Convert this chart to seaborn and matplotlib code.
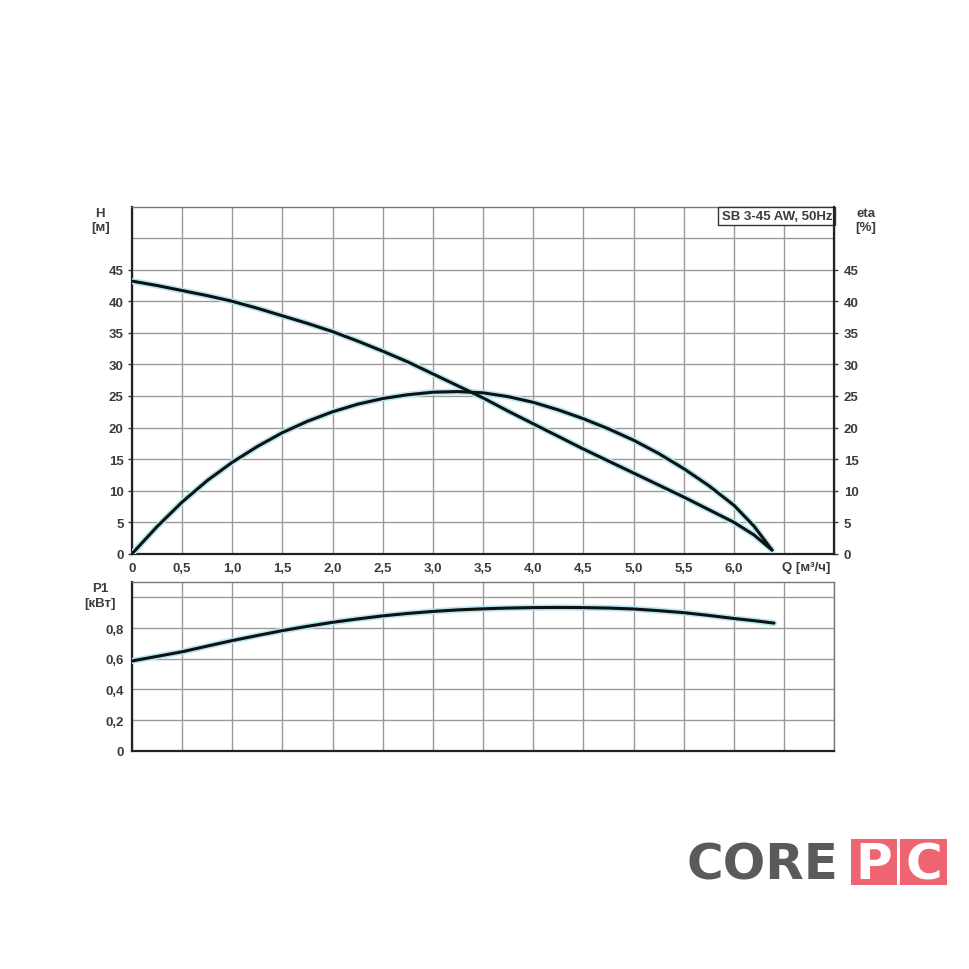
import numpy as np
import pandas as pd
import matplotlib
matplotlib.use("Agg")
import matplotlib.pyplot as plt
import seaborn as sns
from matplotlib.patches import Rectangle

# curve data
q_h = [0, 0.25, 0.5, 0.75, 1.0, 1.25, 1.5, 1.75, 2.0, 2.25, 2.5, 2.75, 3.0, 3.25,
       3.5, 3.75, 4.0, 4.25, 4.5, 4.75, 5.0, 5.25, 5.5, 5.75, 6.0, 6.2, 6.38]
head = [43.2, 42.5, 41.7, 40.9, 40.0, 38.9, 37.7, 36.5, 35.2, 33.7, 32.1, 30.4, 28.5, 26.6,
        24.7, 22.6, 20.6, 18.6, 16.6, 14.7, 12.8, 10.9, 9.0, 7.0, 5.0, 3.0, 0.6]

q_eta = [0, 0.25, 0.5, 0.75, 1.0, 1.25, 1.5, 1.75, 2.0, 2.25, 2.5, 2.75, 3.0, 3.25,
         3.5, 3.75, 4.0, 4.25, 4.5, 4.75, 5.0, 5.25, 5.5, 5.75, 6.0, 6.2, 6.38]
eta = [0, 4.3, 8.2, 11.6, 14.5, 17.0, 19.2, 21.0, 22.5, 23.7, 24.6, 25.2, 25.6, 25.7,
       25.5, 24.9, 24.0, 22.8, 21.4, 19.8, 18.0, 15.9, 13.5, 10.8, 7.7, 4.4, 0.6]

q_p = [0, 0.25, 0.5, 0.75, 1.0, 1.25, 1.5, 1.75, 2.0, 2.25, 2.5, 2.75, 3.0, 3.25,
       3.5, 3.75, 4.0, 4.25, 4.5, 4.75, 5.0, 5.25, 5.5, 5.75, 6.0, 6.2, 6.4]
p1 = [0.585, 0.615, 0.645, 0.682, 0.718, 0.751, 0.783, 0.811, 0.837, 0.859, 0.879, 0.895,
      0.908, 0.918, 0.925, 0.930, 0.933, 0.934, 0.933, 0.930, 0.924, 0.913, 0.900, 0.882,
      0.862, 0.848, 0.832]

q_labels = ["0", "0,5", "1,0", "1,5", "2,0", "2,5", "3,0", "3,5", "4,0", "4,5", "5,0", "5,5", "6,0"]
h_ticks = [0, 5, 10, 15, 20, 25, 30, 35, 40, 45]
p_labels = ["0", "0,2", "0,4", "0,6", "0,8"]

sns.set_style("white")
plt.rcParams['font.family'] = ['Liberation Sans', 'DejaVu Sans']

txt = "#3c3c3c"
gridc = "#9a9a9a"
fs = 9.5
fw = "bold"

fig = plt.figure(figsize=(9.7, 9.7), dpi=100)
ax = fig.add_axes([0.136, 0.428, 0.724, 0.358])
ax2 = ax.twinx()
axp = fig.add_axes([0.136, 0.225, 0.724, 0.174])

df_h = pd.DataFrame({"Q": q_h, "H": head})
df_e = pd.DataFrame({"Q": q_eta, "eta": eta})
df_p = pd.DataFrame({"Q": q_p, "P1": p1})

# light cyan shadow under each curve, like the scanned original
for d, y, a in [(df_h, "H", ax), (df_e, "eta", ax), (df_p, "P1", axp)]:
    sns.lineplot(data=d, x="Q", y=y, ax=a, color="#b5e8f2", linewidth=4.5, zorder=3)
    sns.lineplot(data=d, x="Q", y=y, ax=a, color="#111111", linewidth=2.2, zorder=4)

for a in (ax, axp):
    a.set_xlim(0, 7.0)
    a.set_xticks(np.arange(0, 7.01, 0.5))
    a.grid(True, color=gridc, linewidth=1.0)
    a.set_xlabel("")
    a.set_ylabel("")
    for s in ("top", "right"):
        a.spines[s].set_color("#777777")
        a.spines[s].set_linewidth(1.0)
    for s in ("left", "bottom"):
        a.spines[s].set_color("#222222")
        a.spines[s].set_linewidth(1.6)

ax.set_ylim(0, 55)
ax.set_yticks(h_ticks)
ax.set_yticklabels([str(v) for v in h_ticks], fontweight=fw)
ax.axhline(50, color=gridc, linewidth=1.0, zorder=0.5)
ax.set_xticklabels(q_labels + ["", ""], fontweight=fw)
ax.tick_params(axis="both", labelsize=fs, colors=txt, length=3, width=1, pad=3)

ax2.set_ylim(0, 55)
ax2.set_yticks(h_ticks)
ax2.set_yticklabels([str(v) for v in h_ticks], fontweight=fw)
ax2.tick_params(axis="y", labelsize=fs, colors=txt, length=3, width=1, pad=4)
ax2.spines["right"].set_color("#222222")
ax2.spines["right"].set_linewidth(1.6)
for s in ("top", "left", "bottom"):
    ax2.spines[s].set_visible(False)
ax2.set_ylabel("")

axp.set_ylim(0, 1.1)
axp.set_yticks([0, 0.2, 0.4, 0.6, 0.8, 1.0])
axp.set_yticklabels(p_labels + [""], fontweight=fw)
axp.set_xticklabels([])
axp.tick_params(axis="x", length=0)
axp.tick_params(axis="y", labelsize=fs, colors=txt, length=3, width=1, pad=3)

# axis captions
ax.text(-0.045, 1.0, "H\n[м]", transform=ax.transAxes, ha="center", va="top",
        fontsize=fs, color=txt, fontweight=fw, linespacing=1.3)
ax.text(1.045, 1.0, "eta\n[%]", transform=ax.transAxes, ha="center", va="top",
        fontsize=fs, color=txt, fontweight=fw, linespacing=1.3)
ax.text(0.925, -0.039, "Q [м³/ч]", transform=ax.transAxes, ha="left", va="center",
        fontsize=fs, color=txt, fontweight=fw)
axp.text(-0.045, 1.0, "P1\n[кВт]", transform=axp.transAxes, ha="center", va="top",
         fontsize=fs, color=txt, fontweight=fw, linespacing=1.3)
ax.text(0.997, 0.99, "SB 3-45 AW, 50Hz", transform=ax.transAxes, ha="right", va="top",
        fontsize=fs, color=txt, fontweight=fw, zorder=6,
        bbox=dict(boxstyle="square,pad=0.25", facecolor="white", edgecolor="#333333", linewidth=1.0))

# logo
fig.text(0.7075, 0.108, "CORE", fontsize=36, fontweight="bold", color="#5a5a5a",
         ha="left", va="center", family="DejaVu Sans")
fig.patches.append(Rectangle((0.877, 0.087), 0.048, 0.047, transform=fig.transFigure,
                             facecolor="#ee6470", edgecolor="none"))
fig.patches.append(Rectangle((0.928, 0.087), 0.048, 0.047, transform=fig.transFigure,
                             facecolor="#ee6470", edgecolor="none"))
fig.text(0.901, 0.108, "P", fontsize=36, fontweight="bold", color="white",
         ha="center", va="center", family="DejaVu Sans")
fig.text(0.952, 0.108, "C", fontsize=36, fontweight="bold", color="white",
         ha="center", va="center", family="DejaVu Sans")

fig.savefig("out.png", dpi=100, facecolor="white")
